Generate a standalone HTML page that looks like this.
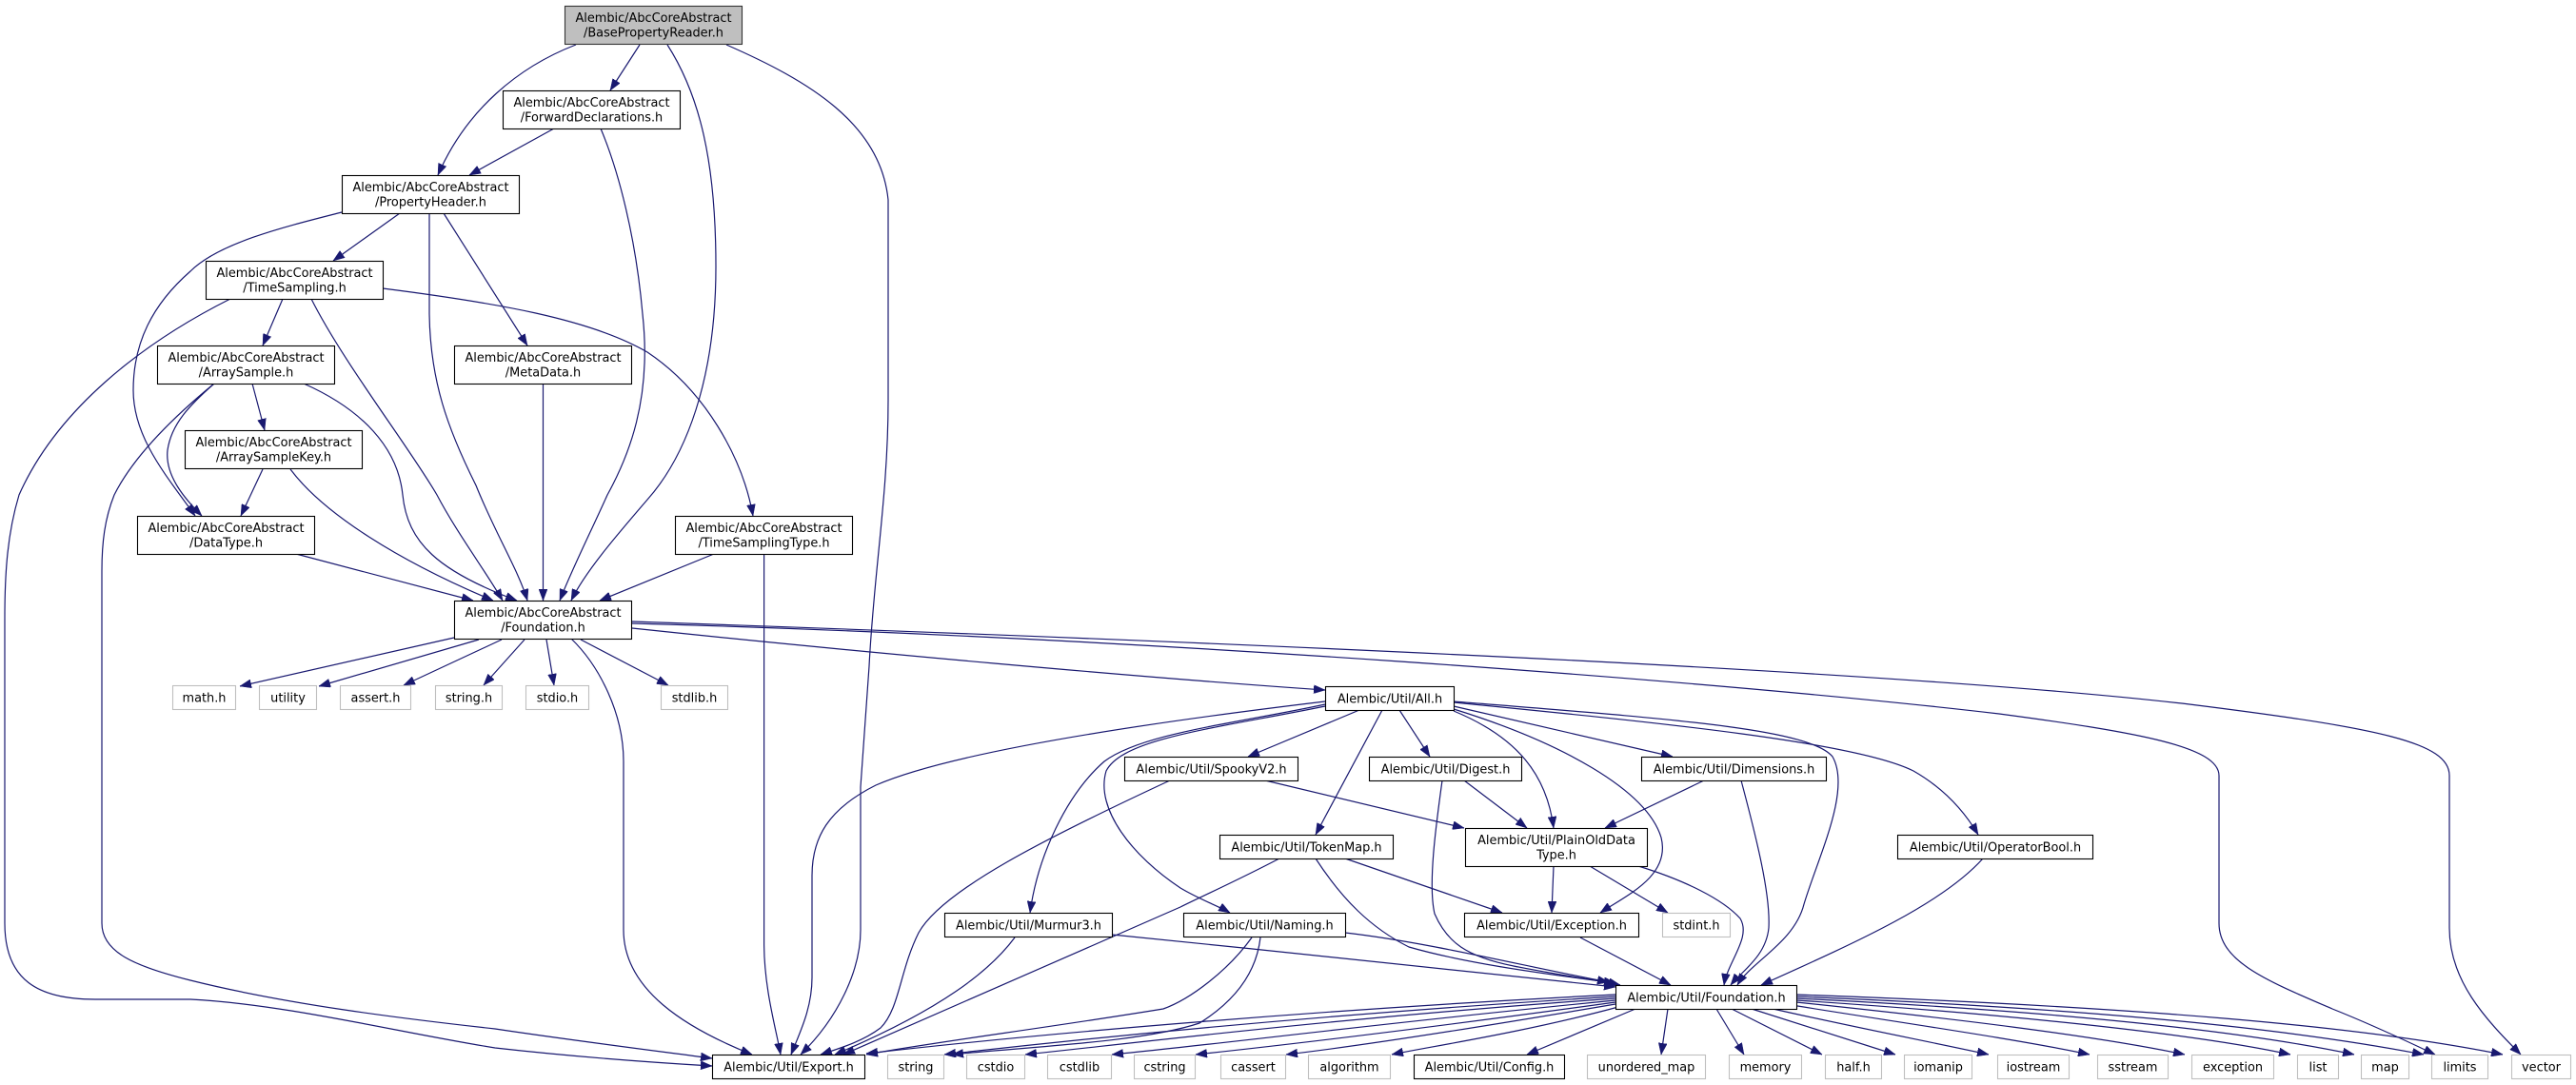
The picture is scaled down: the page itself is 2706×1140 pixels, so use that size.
<!DOCTYPE html>
<html><head><meta charset="utf-8"><style>
html,body{margin:0;padding:0;background:#fff;}
svg{display:block;}
text{font-family:"DejaVu Sans","Liberation Sans",sans-serif;font-size:12.9px;fill:#000;text-anchor:middle;}
.n{fill:#fff;stroke:#000;stroke-width:1.1;}
.g{fill:#fff;stroke:#bfbfbf;stroke-width:1.1;}
.r{fill:#bfbfbf;stroke:#333;stroke-width:1.1;}
path.e{fill:none;stroke:#191970;stroke-width:1.2;marker-end:url(#a);}
</style></head><body>
<svg width="2706" height="1140" viewBox="0 0 2706 1140" xmlns="http://www.w3.org/2000/svg">
<defs><marker id="a" viewBox="0 0 12 9" refX="12" refY="4.5" markerWidth="12" markerHeight="9" markerUnits="userSpaceOnUse" orient="auto"><path d="M0,0 L12,4.5 L0,9 z" fill="#191970" stroke="#191970" stroke-width="0.5"/></marker></defs>

<!-- edges: AbcCoreAbstract -->
<path class="e" d="M605,47 C545,70 490,115 460,184"/>
<path class="e" d="M672,47 L641,95"/>
<path class="e" d="M701,47 C735,100 752,170 752,280 C752,400 720,480 680,525 C650,560 615,600 600,631"/>
<path class="e" d="M763,47 C850,85 925,130 933,210 L933,420 C933,520 918,600 913,700 L904,827 L904,977 C904,1020 880,1070 841,1108"/>
<path class="e" d="M582,135 L493,184"/>
<path class="e" d="M631,135 C650,180 668,250 675,330 C685,420 660,480 638,520 C620,560 600,600 588,631"/>
<path class="e" d="M420,224 L350,274"/>
<path class="e" d="M451,224 L451,330 C452,400 470,450 500,510 C520,560 545,600 554,631"/>
<path class="e" d="M466,224 L554,363"/>
<path class="e" d="M359,223 C300,238 230,255 200,285 C160,320 140,360 140,410 C140,460 175,500 205,542"/>
<path class="e" d="M297,314 L276,363"/>
<path class="e" d="M327,314 C360,380 430,470 459,520 C480,560 510,600 528,631"/>
<path class="e" d="M402,303 C520,318 620,335 680,370 C740,410 780,480 791,542"/>
<path class="e" d="M242,314 C150,360 60,430 20,520 C8,560 5,600 5,650 L5,970 C5,1030 40,1050 100,1050 L200,1050 C300,1055 420,1085 520,1101 C600,1110 680,1116 748,1120"/>
<path class="e" d="M225,403 C180,440 140,480 120,520 C110,545 107,570 107,600 L107,970 C107,1000 140,1015 200,1030 C300,1055 420,1070 520,1081 C600,1093 680,1103 748,1112"/>
<path class="e" d="M225,403 C200,425 180,445 176,473 C173,500 195,525 212,542"/>
<path class="e" d="M265,403 L278,452"/>
<path class="e" d="M319,403 C380,430 418,470 423,520 C428,570 460,600 543,631"/>
<path class="e" d="M276,493 L253,542"/>
<path class="e" d="M305,493 C340,540 420,590 518,631"/>
<path class="e" d="M570.5,403 L570.5,631"/>
<path class="e" d="M311,582 L497,631"/>
<path class="e" d="M750,582 L630,631"/>
<path class="e" d="M802.6,582 L802.6,993 C803,1040 815,1080 820,1108"/>
<!-- Abc Foundation out -->
<path class="e" d="M477,670 L252,721"/>
<path class="e" d="M503,672 L335,721"/>
<path class="e" d="M527,672 L424,720"/>
<path class="e" d="M551,672 L508,720"/>
<path class="e" d="M574,672 L582,720"/>
<path class="e" d="M610,672 L702,720"/>
<path class="e" d="M600,671 C630,700 655,750 655,800 L655,977 C655,1040 720,1080 790,1108"/>
<path class="e" d="M664,660 C900,685 1200,712 1392,725"/>
<path class="e" d="M664,653 C1300,675 2000,705 2300,740 C2500,765 2573,780 2573,815 L2573,975 C2573,1030 2610,1070 2648,1108"/>
<path class="e" d="M664,655 C1200,670 1800,715 2100,750 C2250,770 2331,785 2331,815 L2331,970 C2331,1010 2380,1030 2450,1060 C2500,1080 2530,1095 2558,1108"/>
<!-- Util -->
<path class="e" d="M1428,746 L1311,795"/>
<path class="e" d="M1470,746 L1502,795"/>
<path class="e" d="M1527,742 L1757,795"/>
<path class="e" d="M1452,746 L1382,877"/>
<path class="e" d="M1527,747 C1595,775 1625,815 1632,870"/>
<path class="e" d="M1527,745 C1640,780 1730,830 1745,880 C1755,920 1710,940 1681,959"/>
<path class="e" d="M1527,737 C1750,755 1900,765 1925,795 C1945,830 1910,900 1895,950 C1885,990 1840,1010 1825,1035"/>
<path class="e" d="M1527,738 C1750,760 1950,780 2010,810 C2045,830 2065,855 2078,877"/>
<path class="e" d="M1392,740 C1300,760 1200,770 1160,800 C1120,835 1090,900 1082,959"/>
<path class="e" d="M1392,742 C1280,765 1180,775 1162,810 C1150,850 1190,900 1240,933 C1260,945 1280,952 1292,959"/>
<path class="e" d="M1392,737 C1200,760 1000,790 920,825 C870,850 853,880 853,920 L853,1027 C853,1060 840,1085 831,1108"/>
<path class="e" d="M1329,820 L1538,870"/>
<path class="e" d="M1229,820 C1100,880 990,935 965,980 C945,1020 945,1060 925,1080 C905,1095 880,1102 862,1108"/>
<path class="e" d="M1538,820 L1604,870"/>
<path class="e" d="M1515,820 C1508,870 1500,930 1507,960 C1520,990 1540,1005 1590,1015 C1640,1025 1680,1030 1702,1035"/>
<path class="e" d="M1790,820 L1686,870"/>
<path class="e" d="M1829,820 C1845,880 1860,940 1858,975 C1855,1005 1830,1020 1818,1035"/>
<path class="e" d="M1413,902 L1578,959"/>
<path class="e" d="M1382,902 C1410,945 1440,975 1480,995 C1550,1015 1640,1025 1697,1033"/>
<path class="e" d="M1344,902 C1300,925 1260,943 1240,953 L886,1108"/>
<path class="e" d="M1632,910 L1630,959"/>
<path class="e" d="M1670,910 L1752,959"/>
<path class="e" d="M1721,910 C1770,925 1810,945 1828,965 C1840,985 1815,1010 1811,1035"/>
<path class="e" d="M2083,902 C2040,950 1950,990 1850,1035"/>
<path class="e" d="M1168,982 C1350,1000 1550,1022 1697,1037"/>
<path class="e" d="M1066,985 C1040,1020 990,1060 877,1108"/>
<path class="e" d="M1413,980 C1500,990 1600,1015 1690,1032"/>
<path class="e" d="M1315,985 C1290,1020 1250,1050 1222,1060 C1100,1080 980,1095 910,1108"/>
<path class="e" d="M1324,985 C1320,1020 1300,1050 1260,1075 C1200,1095 1080,1100 1000,1108"/>
<path class="e" d="M1660,985 L1755,1035"/>
<!-- Util Foundation fan -->
<path class="e" d="M1697,1045 C1400,1060 1100,1085 910,1107"/>
<path class="e" d="M1697,1047 C1400,1065 1150,1090 992,1108"/>
<path class="e" d="M1697,1049 C1400,1070 1200,1095 1077,1108"/>
<path class="e" d="M1697,1051 C1450,1075 1300,1095 1168,1108"/>
<path class="e" d="M1697,1053 C1500,1080 1350,1098 1256,1108"/>
<path class="e" d="M1697,1055 C1550,1080 1420,1100 1351,1108"/>
<path class="e" d="M1700,1058 C1600,1085 1500,1100 1462,1108"/>
<path class="e" d="M1718,1060 L1604,1108"/>
<path class="e" d="M1752,1060 L1745,1108"/>
<path class="e" d="M1803,1060 L1832,1108"/>
<path class="e" d="M1819,1060 L1914,1108"/>
<path class="e" d="M1840,1060 L1991,1108"/>
<path class="e" d="M1858,1059 C1950,1080 2030,1095 2089,1108"/>
<path class="e" d="M1882,1056 C2000,1075 2120,1092 2195,1108"/>
<path class="e" d="M1887,1053 C2050,1070 2200,1088 2295,1108"/>
<path class="e" d="M1887,1051 C2100,1065 2300,1085 2406,1108"/>
<path class="e" d="M1887,1049 C2150,1062 2350,1082 2473,1108"/>
<path class="e" d="M1887,1047 C2200,1060 2400,1080 2546,1108"/>
<path class="e" d="M1887,1045 C2250,1058 2480,1078 2629,1108"/>

<!-- nodes -->
<rect class="r" x="593.5" y="6.5" width="186" height="40"/>
<text x="686.5" y="23">Alembic/AbcCoreAbstract</text><text x="686.5" y="38.6">/BasePropertyReader.h</text>
<rect class="n" x="528.5" y="95.5" width="186" height="40"/>
<text x="621.5" y="112">Alembic/AbcCoreAbstract</text><text x="621.5" y="127.6">/ForwardDeclarations.h</text>
<rect class="n" x="359.5" y="184.5" width="186" height="40"/>
<text x="452.5" y="201">Alembic/AbcCoreAbstract</text><text x="452.5" y="216.6">/PropertyHeader.h</text>
<rect class="n" x="216.5" y="274.5" width="186" height="40"/>
<text x="309.5" y="291">Alembic/AbcCoreAbstract</text><text x="309.5" y="306.6">/TimeSampling.h</text>
<rect class="n" x="165.5" y="363.5" width="186" height="40"/>
<text x="258.5" y="380">Alembic/AbcCoreAbstract</text><text x="258.5" y="395.6">/ArraySample.h</text>
<rect class="n" x="477.5" y="363.5" width="186" height="40"/>
<text x="570.5" y="380">Alembic/AbcCoreAbstract</text><text x="570.5" y="395.6">/MetaData.h</text>
<rect class="n" x="194.5" y="452.5" width="186" height="40"/>
<text x="287.5" y="469">Alembic/AbcCoreAbstract</text><text x="287.5" y="484.6">/ArraySampleKey.h</text>
<rect class="n" x="144.5" y="542.5" width="186" height="40"/>
<text x="237.5" y="559">Alembic/AbcCoreAbstract</text><text x="237.5" y="574.6">/DataType.h</text>
<rect class="n" x="709.5" y="542.5" width="186" height="40"/>
<text x="802.5" y="559">Alembic/AbcCoreAbstract</text><text x="802.5" y="574.6">/TimeSamplingType.h</text>
<rect class="n" x="477.5" y="631.5" width="186" height="40"/>
<text x="570.5" y="648">Alembic/AbcCoreAbstract</text><text x="570.5" y="663.6">/Foundation.h</text>

<rect class="g" x="181.5" y="720.5" width="66" height="25"/><text x="214.5" y="737.6">math.h</text>
<rect class="g" x="272.5" y="720.5" width="60" height="25"/><text x="302.5" y="737.6">utility</text>
<rect class="g" x="357.5" y="720.5" width="74" height="25"/><text x="394.5" y="737.6">assert.h</text>
<rect class="g" x="457.5" y="720.5" width="70" height="25"/><text x="492.5" y="737.6">string.h</text>
<rect class="g" x="552.5" y="720.5" width="66" height="25"/><text x="585.5" y="737.6">stdio.h</text>
<rect class="g" x="694.5" y="720.5" width="70" height="25"/><text x="729.5" y="737.6">stdlib.h</text>

<rect class="n" x="1392.5" y="721.5" width="135" height="25"/><text x="1460" y="738.6">Alembic/Util/All.h</text>
<rect class="n" x="1181.5" y="795.5" width="182" height="25"/><text x="1272.5" y="812.6">Alembic/Util/SpookyV2.h</text>
<rect class="n" x="1438.5" y="795.5" width="160" height="25"/><text x="1518.5" y="812.6">Alembic/Util/Digest.h</text>
<rect class="n" x="1724.5" y="795.5" width="194" height="25"/><text x="1821.5" y="812.6">Alembic/Util/Dimensions.h</text>
<rect class="n" x="1281.5" y="877.5" width="182" height="25"/><text x="1372.5" y="894.6">Alembic/Util/TokenMap.h</text>
<rect class="n" x="1539.5" y="870.5" width="191" height="40"/>
<text x="1635" y="887">Alembic/Util/PlainOldData</text><text x="1635" y="902.6">Type.h</text>
<rect class="n" x="1993.5" y="877.5" width="205" height="25"/><text x="2096" y="894.6">Alembic/Util/OperatorBool.h</text>
<rect class="n" x="992.5" y="959.5" width="176" height="25"/><text x="1080.5" y="976.6">Alembic/Util/Murmur3.h</text>
<rect class="n" x="1243.5" y="959.5" width="170" height="25"/><text x="1328.5" y="976.6">Alembic/Util/Naming.h</text>
<rect class="n" x="1538.5" y="959.5" width="183" height="25"/><text x="1630" y="976.6">Alembic/Util/Exception.h</text>
<rect class="g" x="1746.5" y="959.5" width="71" height="25"/><text x="1782" y="976.6">stdint.h</text>
<rect class="n" x="1697.5" y="1035.5" width="190" height="25"/><text x="1792.5" y="1052.6">Alembic/Util/Foundation.h</text>

<rect class="n" x="748.5" y="1108.5" width="160" height="25"/><text x="828.5" y="1125.6">Alembic/Util/Export.h</text>
<rect class="g" x="932.5" y="1108.5" width="59" height="25"/><text x="962" y="1125.6">string</text>
<rect class="g" x="1015.5" y="1108.5" width="61" height="25"/><text x="1046" y="1125.6">cstdio</text>
<rect class="g" x="1100.5" y="1108.5" width="67" height="25"/><text x="1134" y="1125.6">cstdlib</text>
<rect class="g" x="1191.5" y="1108.5" width="64" height="25"/><text x="1223.5" y="1125.6">cstring</text>
<rect class="g" x="1282.5" y="1108.5" width="68" height="25"/><text x="1316.5" y="1125.6">cassert</text>
<rect class="g" x="1374.5" y="1108.5" width="86" height="25"/><text x="1417.5" y="1125.6">algorithm</text>
<rect class="n" x="1485.5" y="1108.5" width="158" height="25"/><text x="1564.5" y="1125.6">Alembic/Util/Config.h</text>
<rect class="g" x="1667.5" y="1108.5" width="124" height="25"/><text x="1729.5" y="1125.6">unordered_map</text>
<rect class="g" x="1816.5" y="1108.5" width="76" height="25"/><text x="1854.5" y="1125.6">memory</text>
<rect class="g" x="1917.5" y="1108.5" width="59" height="25"/><text x="1947" y="1125.6">half.h</text>
<rect class="g" x="2000.5" y="1108.5" width="71" height="25"/><text x="2036" y="1125.6">iomanip</text>
<rect class="g" x="2098.5" y="1108.5" width="75" height="25"/><text x="2136" y="1125.6">iostream</text>
<rect class="g" x="2203.5" y="1108.5" width="74" height="25"/><text x="2240.5" y="1125.6">sstream</text>
<rect class="g" x="2302.5" y="1108.5" width="86" height="25"/><text x="2345.5" y="1125.6">exception</text>
<rect class="g" x="2413.5" y="1108.5" width="43" height="25"/><text x="2435" y="1125.6">list</text>
<rect class="g" x="2480.5" y="1108.5" width="50" height="25"/><text x="2505.5" y="1125.6">map</text>
<rect class="g" x="2554.5" y="1108.5" width="59" height="25"/><text x="2584" y="1125.6">limits</text>
<rect class="g" x="2638.5" y="1108.5" width="62" height="25"/><text x="2669.5" y="1125.6">vector</text>
</svg>
</body></html>
